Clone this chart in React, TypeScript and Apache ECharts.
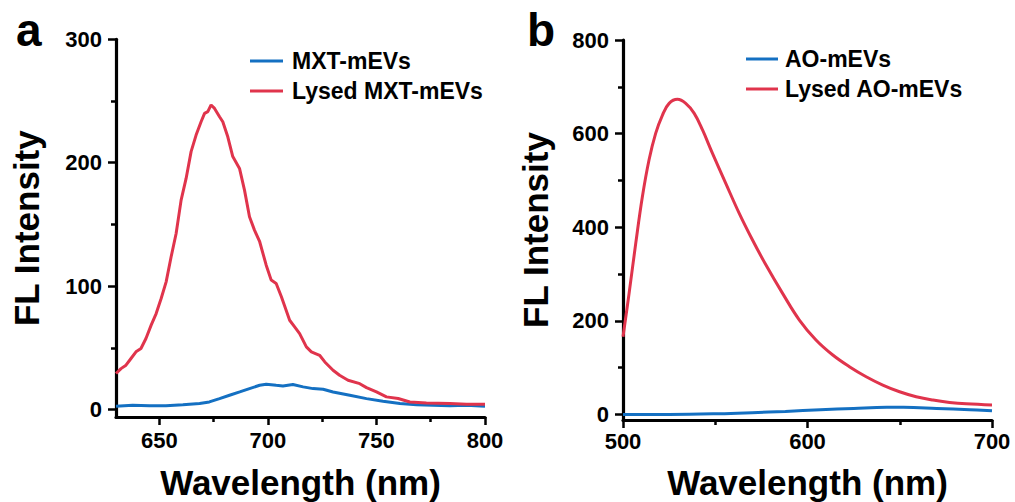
import React, { useEffect, useRef } from "react";
import * as echarts from "echarts";

// Panel a: MXT-mEVs
const mxtLysedWl = [630, 632.3, 634.6, 636.9, 639.2, 641.5, 643.8, 646.2, 648.5, 650.8, 653.1, 655.4, 657.7, 660, 662.3, 664.6, 666.9, 669.2, 670.8, 672.3, 673.8, 675.4, 677.7, 679.2, 681.5, 683.8, 686.9, 689.2, 691.5, 693.8, 696.2, 699.2, 701.5, 703.8, 706.2, 710, 712.3, 714.6, 717.7, 720, 723.8, 726.2, 730, 733, 736.9, 742.3, 745.4, 750, 754.6, 760, 765.4, 773, 783.8, 791.5, 800];
const mxtLysedVal = [29.2, 33.2, 36, 41.4, 46.8, 49.5, 57.6, 68.4, 77.8, 90, 103.5, 123.8, 142.7, 169.7, 187.3, 209, 222.4, 233.2, 240, 241.4, 246.8, 244, 237.3, 233.2, 221, 205, 195.4, 177.8, 156.2, 145.4, 136, 117, 104.9, 102.2, 91.4, 72.4, 67, 61.6, 50.8, 46.8, 44, 38.6, 31.9, 27.8, 23.8, 21, 17.8, 14.3, 10.3, 9, 6.2, 5.4, 4.9, 4.3, 4.3];
const mxtWl = [630, 637.7, 645.4, 653, 660.8, 668.5, 673, 677.7, 682.3, 687, 691.5, 696.2, 699.2, 703.8, 706.9, 711.5, 716.2, 720.8, 725.4, 730, 737.7, 745.4, 753, 760.8, 768.5, 776, 783.8, 791.5, 800];
const mxtVal = [2.7, 3.5, 3.2, 3.2, 4, 4.9, 6.2, 8.9, 11.6, 14.3, 17, 19.7, 20.5, 19.7, 19.2, 20.3, 18.4, 17, 16.5, 14.3, 11.6, 8.9, 6.8, 4.9, 4, 3.5, 3.2, 3.5, 2.7];

// Panel b: AO-mEVs
const aoLysedWl = [500, 503.3, 506.9, 510.5, 514.1, 517.7, 521.4, 525, 529.5, 534, 538.6, 543.1, 548.5, 555.7, 563, 570.2, 577.5, 586.5, 595.6, 604.6, 613.7, 622.7, 631.8, 640.8, 649.9, 658.9, 668, 677, 686, 700];
const aoLysedVal = [166, 258.6, 365.4, 465, 543.5, 600.5, 639.7, 664.6, 673.2, 664.6, 643.3, 607.7, 557.8, 493.7, 429.6, 372.6, 319.1, 258.6, 201.6, 158.9, 126.8, 101.9, 80.5, 62.7, 48.4, 37.8, 30.6, 25.6, 22.5, 20];
const aoWl = [500, 525, 552, 570, 588, 607, 625, 643, 652, 670, 688, 700];
const aoVal = [0, 0, 1.4, 3.6, 6.4, 10, 12.8, 15, 15, 12.8, 10, 7.8];

// Tick labels
const aXMajor = [650, 700, 750, 800];
const aXMinor = [675, 725, 775];
const aYMajor = [0, 100, 200, 300];
const aYMinor = [50, 150, 250];
const bXMajor = [500, 600, 700];
const bXMinor = [550, 650];
const bYMajor = [0, 200, 400, 600, 800];
const bYMinor = [100, 300, 500, 700];

const BLUE = "#1470c2";
const RED = "#e0344c";
const FONT = "'Liberation Sans', Arial, sans-serif";

const zip = (xs: number[], ys: number[]) => xs.map((x, i) => [x, ys[i]]);

function majorAxis(dim: "x" | "y", gridIndex: number, min: number, max: number, ticks: number[], name: string, nameGap: number, labelMargin: number) {
  return {
    type: "value",
    gridIndex,
    min,
    max,
    position: dim === "x" ? "bottom" : "left",
    name,
    nameLocation: "middle",
    nameGap,
    nameTextStyle: { color: "#000", fontSize: 35, fontWeight: "bold", fontFamily: FONT },
    axisLine: { show: true, onZero: false, lineStyle: { color: "#000", width: 3.2 } },
    axisTick: { show: true, inside: false, length: 8, customValues: ticks, lineStyle: { color: "#000", width: 2.5 } },
    axisLabel: { show: true, customValues: ticks, margin: labelMargin, color: "#000", fontSize: 22, fontWeight: "bold", fontFamily: FONT },
    splitLine: { show: false },
  };
}

function minorAxis(dim: "x" | "y", gridIndex: number, min: number, max: number, ticks: number[]) {
  return {
    type: "value",
    gridIndex,
    min,
    max,
    position: dim === "x" ? "bottom" : "left",
    axisLine: { show: false, onZero: false },
    axisTick: { show: true, inside: false, length: 5, customValues: ticks, lineStyle: { color: "#000", width: 2.5 } },
    axisLabel: { show: false },
    splitLine: { show: false },
  };
}

const legendText = { color: "#000", fontSize: 23, fontWeight: "bold", fontFamily: FONT, lineHeight: 24 };

export default function App() {
  const ref = useRef<HTMLDivElement>(null);
  useEffect(() => {
    if (!ref.current) return;
    const chart = echarts.init(ref.current, undefined, { renderer: "svg" });
    chart.setOption({
      animation: false,
      backgroundColor: "#fff",
      title: [
        { text: "a", left: 16, top: 7, padding: 0, textStyle: { color: "#000", fontSize: 46, fontWeight: "bold", fontFamily: FONT } },
        { text: "b", left: 527, top: 7, padding: 0, textStyle: { color: "#000", fontSize: 46, fontWeight: "bold", fontFamily: FONT } },
      ],
      legend: [
        {
          orient: "vertical", left: 250, top: 49, padding: 0, itemGap: 6, itemWidth: 33, itemHeight: 3, icon: "rect",
          data: ["MXT-mEVs", "Lysed MXT-mEVs"], textStyle: { ...legendText, padding: [0, 0, 0, 4] }, selectedMode: false,
        },
        {
          orient: "vertical", left: 746, top: 47, padding: 0, itemGap: 6, itemWidth: 32, itemHeight: 3, icon: "rect",
          data: ["AO-mEVs", "Lysed AO-mEVs"], textStyle: { ...legendText, padding: [0, 0, 0, 2] }, selectedMode: false,
        },
      ],
      grid: [
        { left: 116, top: 39.3, width: 369, height: 377.7, containLabel: false, outerBoundsMode: "none" },
        { left: 623, top: 40, width: 369, height: 380, containLabel: false, outerBoundsMode: "none" },
      ],
      xAxis: [
        majorAxis("x", 0, 630, 800, aXMajor, "Wavelength (nm)", 48, 12),
        minorAxis("x", 0, 630, 800, aXMinor),
        majorAxis("x", 1, 500, 700, bXMajor, "Wavelength (nm)", 45, 10),
        minorAxis("x", 1, 500, 700, bXMinor),
      ],
      yAxis: [
        majorAxis("y", 0, -6, 300, aYMajor, "FL Intensity", 72, 14),
        minorAxis("y", 0, -6, 300, aYMinor),
        majorAxis("y", 1, -12, 800, bYMajor, "FL Intensity", 70, 14),
        minorAxis("y", 1, -12, 800, bYMinor),
      ],
      series: [
        { name: "MXT-mEVs", type: "line", xAxisIndex: 0, yAxisIndex: 0, data: zip(mxtWl, mxtVal), showSymbol: false, symbol: "none", lineStyle: { color: BLUE, width: 3 }, itemStyle: { color: BLUE } },
        { name: "Lysed MXT-mEVs", type: "line", xAxisIndex: 0, yAxisIndex: 0, data: zip(mxtLysedWl, mxtLysedVal), showSymbol: false, symbol: "none", lineStyle: { color: RED, width: 3 }, itemStyle: { color: RED } },
        { name: "AO-mEVs", type: "line", xAxisIndex: 2, yAxisIndex: 2, data: zip(aoWl, aoVal), smooth: 0.4, showSymbol: false, symbol: "none", lineStyle: { color: BLUE, width: 3 }, itemStyle: { color: BLUE } },
        { name: "Lysed AO-mEVs", type: "line", xAxisIndex: 2, yAxisIndex: 2, data: zip(aoLysedWl, aoLysedVal), smooth: 0.4, showSymbol: false, symbol: "none", lineStyle: { color: RED, width: 3 }, itemStyle: { color: RED } },
      ],
    });
    return () => chart.dispose();
  }, []);
  return <div ref={ref} style={{ position: "absolute", left: 0, top: 0, width: 1015, height: 502 }} />;
}
